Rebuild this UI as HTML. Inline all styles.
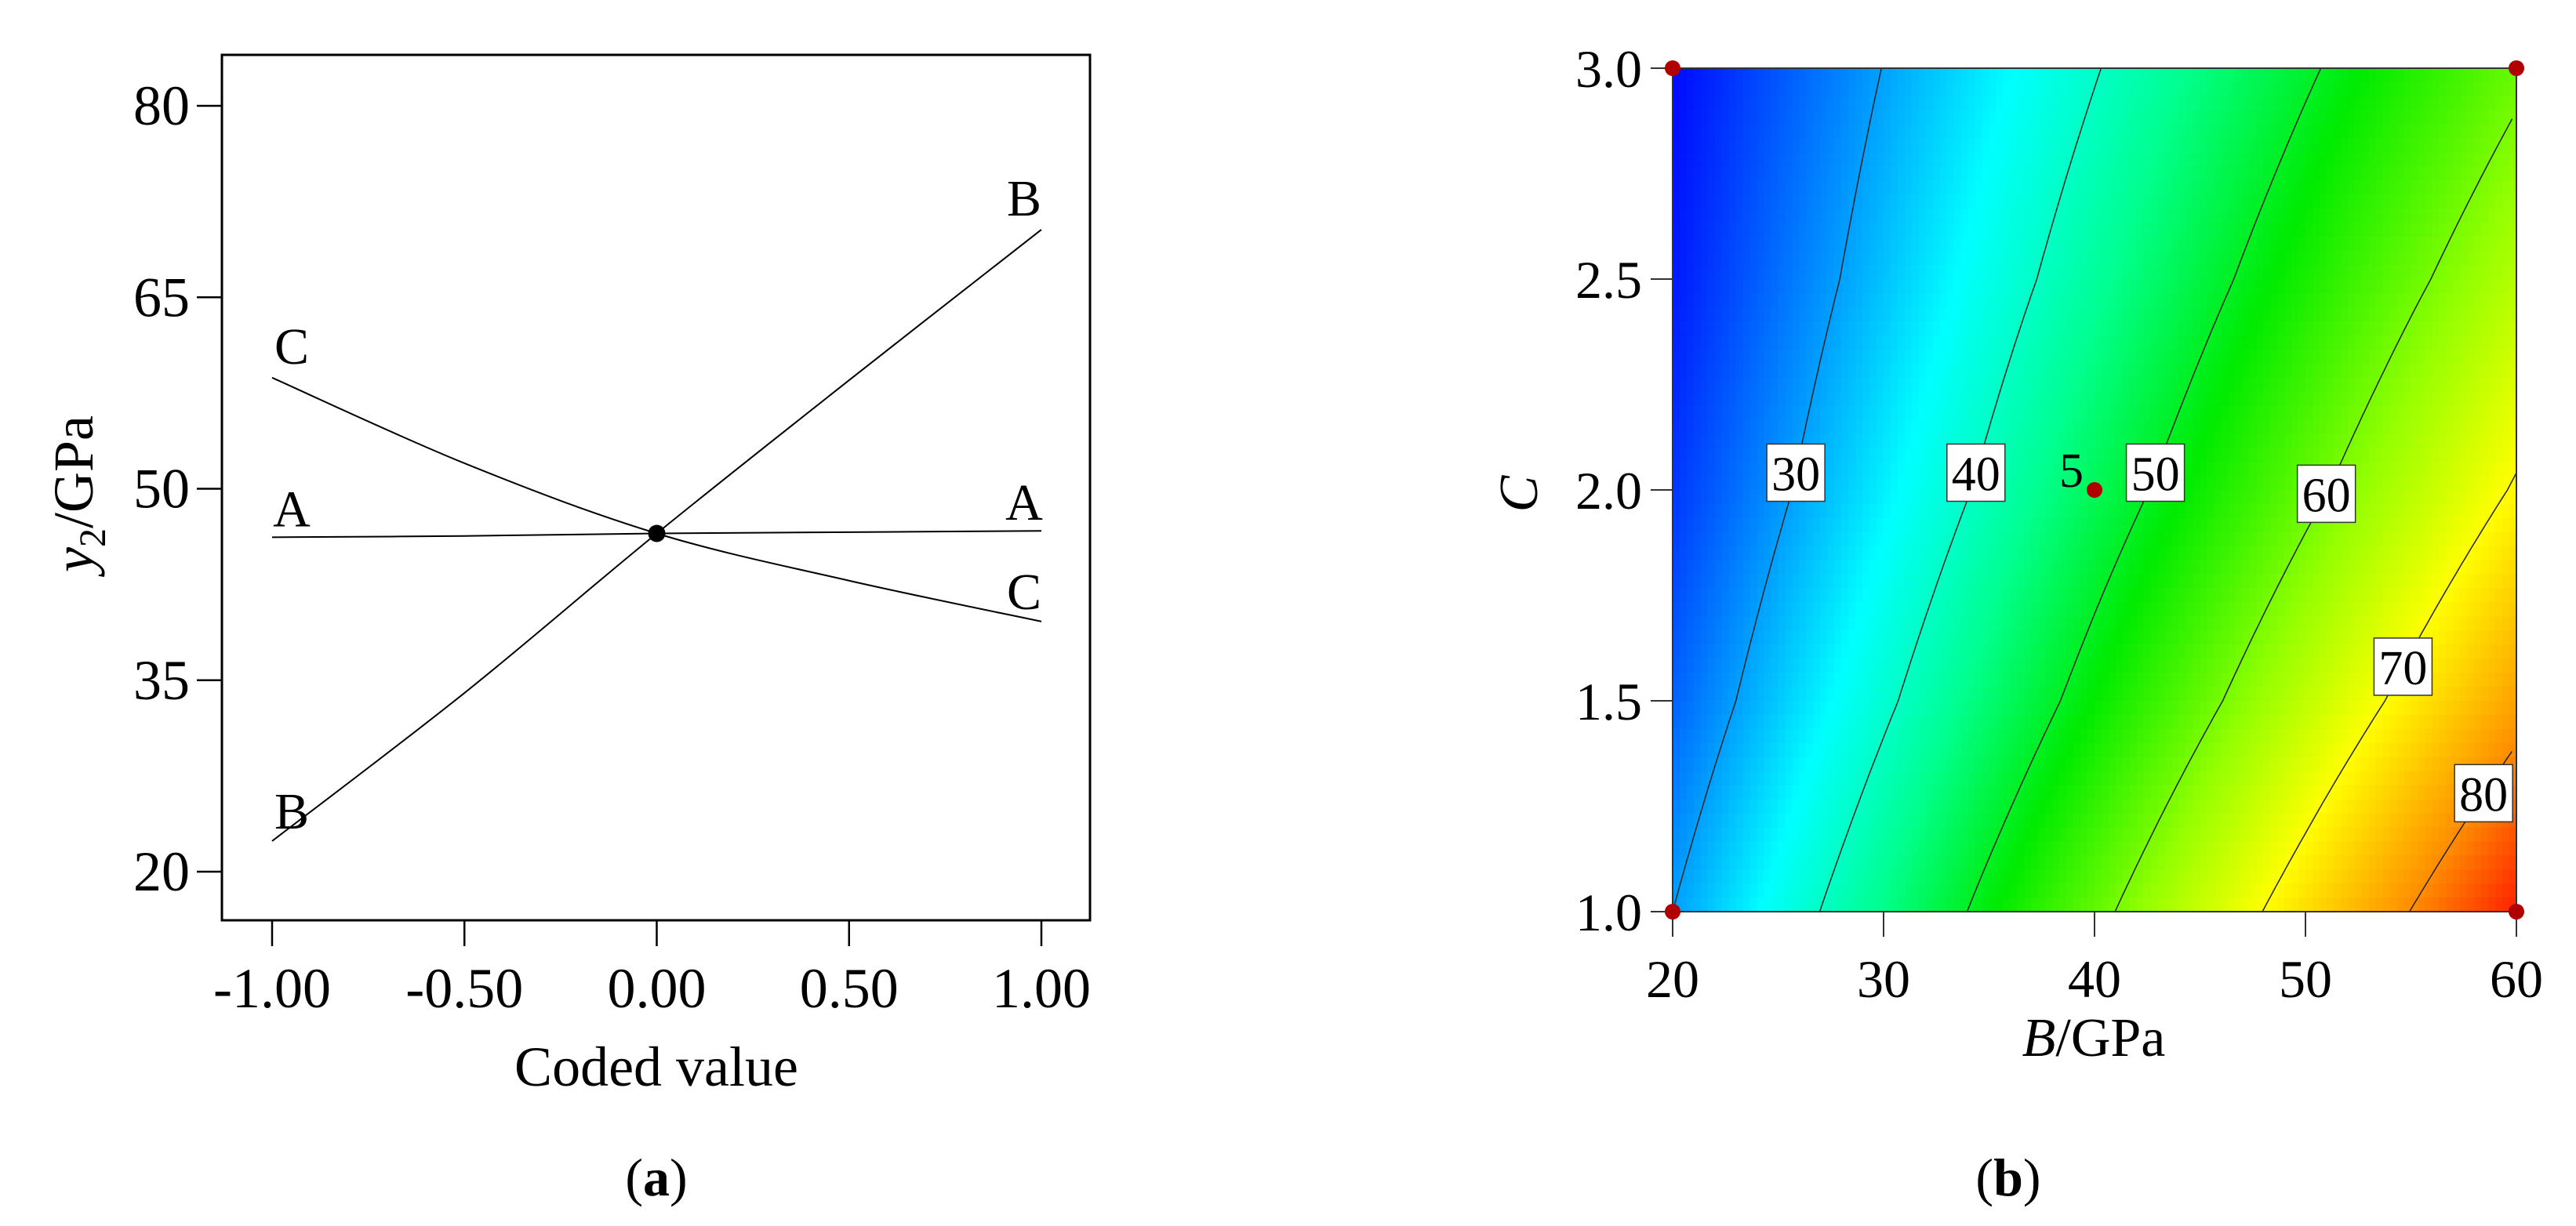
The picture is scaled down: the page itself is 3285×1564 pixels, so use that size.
<!DOCTYPE html>
<html><head><meta charset="utf-8">
<style>
html,body{margin:0;padding:0;background:#fff;}
svg{display:block;}
text{font-family:"Liberation Serif",serif;fill:#000;}
</style></head>
<body>
<svg id="fig" width="3285" height="1564" viewBox="0 0 3285 1564" xmlns="http://www.w3.org/2000/svg">
<g id="pa"></g>
<g id="pb"></g>
</svg>
<script>
// ---------- Panel (a) data ----------
const codedX = [-1, -0.5, 0, 0.5, 1];
const seriesA = [46.2, 46.3, 46.5, 46.6, 46.7];
const seriesB = [22.4, 34.0, 46.5, 58.5, 70.3];
const seriesC = [58.7, 52.0, 46.5, 42.8, 39.6];
const aYTicks = [20, 35, 50, 65, 80];
const aXTicks = [-1, -0.5, 0, 0.5, 1];
const aXTickLabels = ["-1.00", "-0.50", "0.00", "0.50", "1.00"];

// ---------- Panel (b) data ----------
const gridB = [20, 25, 30, 35, 40, 45, 50, 55, 60];
const gridC = [1, 1.5, 2, 2.5, 3];
const gridC1 = [30.0, 37.2, 44.3, 51.5, 58.6, 65.8, 72.9, 80.1, 87.2];
const gridC15 = [26.1, 32.6, 39.1, 45.6, 52.1, 58.6, 65.1, 71.6, 78.1];
const gridC2 = [23.3, 29.2, 35.1, 41.0, 47.0, 52.8, 58.7, 64.6, 70.5];
const gridC25 = [21.5, 26.9, 32.2, 37.6, 42.9, 48.3, 53.6, 59.0, 64.3];
const gridC3 = [20.5, 25.3, 30.1, 34.9, 39.7, 44.5, 49.3, 54.1, 58.9];
const contourLevels = [30, 40, 50, 60, 70, 80];
const contourLabelC = [2.04, 2.04, 2.04, 1.99, 1.58, 1.28];
const designB = [20, 20, 60, 60, 40];
const designC = [1, 3, 1, 3, 2];
const bXTicks = [20, 30, 40, 50, 60];
const bYTicks = [1.0, 1.5, 2.0, 2.5, 3.0];

const NS = "http://www.w3.org/2000/svg";
function mk(parent, tag, attrs, txt) {
  const e = document.createElementNS(NS, tag);
  for (const k in attrs) e.setAttribute(k, attrs[k]);
  if (txt !== undefined) e.textContent = txt;
  parent.appendChild(e);
  return e;
}

// ===== Panel A =====
const pa = document.getElementById('pa');
const aL = 283, aR = 1390, aT = 70, aB = 1174;
const ax = v => 837.5 + v * 490.5;
const ay = v => 1112 - (v - 20) * (977 / 60);

let e = mk(pa, 'rect', {x: aL, y: aT, width: aR - aL, height: aB - aT, fill: 'none', stroke: '#000', 'stroke-width': 3});



aYTicks.forEach(t => {
  const y = ay(t);
  let l = mk(pa, 'line', {x1: 251, x2: aL, y1: y, y2: y, stroke: '#000', 'stroke-width': 2.5});
  
  
  let tx = mk(pa, 'text', {x: 242, y: y + 24, 'font-size': 72, 'text-anchor': 'end'}, String(t));
  
  
});
aXTicks.forEach((t, i) => {
  const x = ax(t);
  let l = mk(pa, 'line', {x1: x, x2: x, y1: aB, y2: 1207, stroke: '#000', 'stroke-width': 2.5});
  
  
  let tx = mk(pa, 'text', {x: x, y: 1285, 'font-size': 72, 'text-anchor': 'middle'}, aXTickLabels[i]);
  
  
});
e = mk(pa, 'text', {x: 837, y: 1385, 'font-size': 72, 'text-anchor': 'middle'}, 'Coded value');


e = mk(pa, 'text', {x: 0, y: 0, 'font-size': 72, 'text-anchor': 'middle', transform: 'translate(118,630) rotate(-90)'});


mk(e, 'tspan', {'font-style': 'italic'}, 'y');
mk(e, 'tspan', {'font-size': 48, dy: 16}, '2');
mk(e, 'tspan', {dy: -16}, '/GPa');

function drawSeries(vals, name, leftBase, rightBase) {
  let pts = vals.map((v, i) => [ax(codedX[i]), ay(v)]);
  let path = 'M' + pts[0][0] + ' ' + pts[0][1];
  for (let i = 0; i < pts.length - 1; i++) {
    const p0 = pts[Math.max(0, i - 1)], p1 = pts[i], p2 = pts[i + 1], p3 = pts[Math.min(pts.length - 1, i + 2)];
    const c1 = [p1[0] + (p2[0] - p0[0]) / 6, p1[1] + (p2[1] - p0[1]) / 6];
    const c2 = [p2[0] - (p3[0] - p1[0]) / 6, p2[1] - (p3[1] - p1[1]) / 6];
    path += ` C${c1[0]} ${c1[1]} ${c2[0]} ${c2[1]} ${p2[0]} ${p2[1]}`;
  }
  let p = mk(pa, 'path', {d: path, fill: 'none', stroke: '#000', 'stroke-width': 2});
  
  
  const n = vals.length - 1;
  let t1 = mk(pa, 'text', {x: ax(codedX[0]) + 25, y: ay(vals[0]) + leftBase, 'font-size': 66, 'text-anchor': 'middle'}, name.toUpperCase());
  
  
  let t2 = mk(pa, 'text', {x: ax(codedX[n]) - 22, y: ay(vals[n]) + rightBase, 'font-size': 66, 'text-anchor': 'middle'}, name.toUpperCase());
  
  
}
drawSeries(seriesA, 'a', -14, -14);
drawSeries(seriesB, 'b', -16, -18);
drawSeries(seriesC, 'c', -18, -16);
e = mk(pa, 'circle', {cx: ax(0), cy: ay(seriesB[2]), r: 11, fill: '#000'});


e = mk(pa, 'text', {x: 837, y: 1525, 'font-size': 68, 'text-anchor': 'middle'});


mk(e, 'tspan', {}, '(');
mk(e, 'tspan', {'font-weight': 'bold'}, 'a');
mk(e, 'tspan', {}, ')');

// ===== Panel B =====
const pb = document.getElementById('pb');
const bL = 2133, bR = 3209, bT = 87, bBot = 1163;
const bx = v => bL + (v - 20) / 40 * (bR - bL);
const by = v => bBot - (v - 1) / 2 * (bBot - bT);
const rows = [gridC1, gridC15, gridC2, gridC25, gridC3];

function val(B, C) {
  let fi = (B - gridB[0]) / (gridB[1] - gridB[0]);
  let fj = (C - gridC[0]) / (gridC[1] - gridC[0]);
  let i = Math.min(gridB.length - 2, Math.max(0, Math.floor(fi)));
  let j = Math.min(gridC.length - 2, Math.max(0, Math.floor(fj)));
  let u = fi - i, w = fj - j;
  return rows[j][i] * (1 - u) * (1 - w) + rows[j][i + 1] * u * (1 - w) + rows[j + 1][i] * (1 - u) * w + rows[j + 1][i + 1] * u * w;
}
const cStops = [[20, [0, 0, 255]], [28, [0, 128, 255]], [36, [0, 255, 255]], [44, [0, 255, 140]], [52, [0, 235, 0]], [62, [150, 255, 0]], [70, [255, 255, 0]], [80, [255, 140, 0]], [88, [255, 20, 0]]];
function col(v) {
  if (v <= cStops[0][0]) return cStops[0][1];
  for (let k = 0; k < cStops.length - 1; k++) {
    const [a, ca] = cStops[k], [b, cb] = cStops[k + 1];
    if (v <= b) { const t = (v - a) / (b - a); return ca.map((c, m) => Math.round(c + (cb[m] - c) * t)); }
  }
  return cStops[cStops.length - 1][1];
}
const heat = mk(pb, 'g', {});


const NX = 120, NY = 60;
const cw = (bR - bL) / NX, ch = (bBot - bT) / NY;
for (let j = 0; j < NY; j++) for (let i = 0; i < NX; i++) {
  const B = 20 + (i + 0.5) / NX * 40, C = 3 - (j + 0.5) / NY * 2;
  const c = col(val(B, C));
  const r = mk(heat, 'rect', {x: (bL + i * cw).toFixed(2), y: (bT + j * ch).toFixed(2), width: (cw + 0.6).toFixed(2), height: (ch + 0.6).toFixed(2), fill: `rgb(${c[0]},${c[1]},${c[2]})`});
  
  
}
function crossB(level, C) {
  const N = 400;
  let prev = val(20, C);
  for (let k = 1; k <= N; k++) {
    const B = 20 + k / N * 40, v = val(B, C);
    if ((prev - level) * (v - level) <= 0 && prev !== v) {
      const Bp = B - 40 / N;
      return Bp + (level - prev) / (v - prev) * (40 / N);
    }
    prev = v;
  }
  return null;
}
contourLevels.forEach((lv, li) => {
  let pts = [];
  for (let s = 0; s <= 100; s++) {
    const C = 1 + s / 100 * 2;
    const B = crossB(lv, C);
    if (B !== null) pts.push([bx(B), by(C)]);
  }
  if (pts.length < 2) return;
  const p = mk(pb, 'path', {d: 'M' + pts.map(q => q[0].toFixed(1) + ' ' + q[1].toFixed(1)).join(' L'), fill: 'none', stroke: '#222', 'stroke-width': 1.5});
  
  
  const lc = contourLabelC[li], lb = crossB(lv, lc);
  if (lb !== null) {
    const g = mk(pb, 'g', {});
    
    
    mk(g, 'rect', {x: bx(lb) - 37, y: by(lc) - 37, width: 74, height: 73, fill: '#fff', stroke: '#333', 'stroke-width': 1.5});
    mk(g, 'text', {x: bx(lb), y: by(lc) + 22, 'font-size': 62, 'text-anchor': 'middle'}, String(lv));
  }
});
e = mk(pb, 'rect', {x: bL, y: bT, width: bR - bL, height: bBot - bT, fill: 'none', stroke: '#333', 'stroke-width': 2});


bXTicks.forEach(t => {
  const x = bx(t);
  let l = mk(pb, 'line', {x1: x, x2: x, y1: bBot, y2: 1195, stroke: '#333', 'stroke-width': 2});
  
  
  let tx = mk(pb, 'text', {x: x, y: 1272, 'font-size': 68, 'text-anchor': 'middle'}, String(t));
  
  
});
bYTicks.forEach(t => {
  const y = by(t);
  let l = mk(pb, 'line', {x1: 2105, x2: bL, y1: y, y2: y, stroke: '#333', 'stroke-width': 2});
  
  
  let tx = mk(pb, 'text', {x: 2094, y: y + 24, 'font-size': 68, 'text-anchor': 'end'}, t.toFixed(1));
  
  
});
designB.forEach((B, i) => {
  const c = mk(pb, 'circle', {cx: bx(B), cy: by(designC[i]), r: 10, fill: '#b00000'});
  
  
});
e = mk(pb, 'text', {x: bx(40) - 14, y: by(2) - 4, 'font-size': 62, 'text-anchor': 'end'}, '5');


e = mk(pb, 'text', {x: 2670, y: 1347, 'font-size': 70, 'text-anchor': 'middle'});


mk(e, 'tspan', {'font-style': 'italic'}, 'B');
mk(e, 'tspan', {}, '/GPa');
e = mk(pb, 'text', {x: 0, y: 0, 'font-size': 70, 'font-style': 'italic', 'text-anchor': 'middle', transform: 'translate(1960,630) rotate(-90)'}, 'C');


e = mk(pb, 'text', {x: 2561, y: 1525, 'font-size': 68, 'text-anchor': 'middle'});


mk(e, 'tspan', {}, '(');
mk(e, 'tspan', {'font-weight': 'bold'}, 'b');
mk(e, 'tspan', {}, ')');
</script>
</body></html>
